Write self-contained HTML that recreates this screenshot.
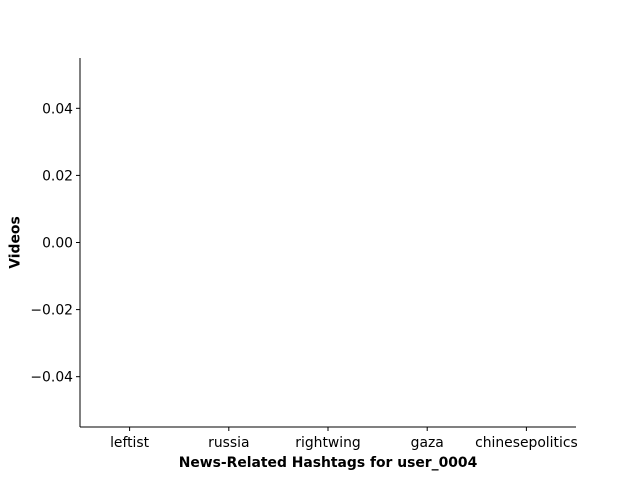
<!DOCTYPE html>
<html><head><meta charset="utf-8"><style>
html,body{margin:0;padding:0;background:#fff;}
svg{display:block;font-family:"DejaVu Sans","Liberation Sans",sans-serif;}
</style></head><body>
<svg id="chart" width="640" height="480"></svg>
<script>
const categories = ["leftist","russia","rightwing","gaza","chinesepolitics"];
const values = [0,0,0,0,0];
const yTicks = [-0.04,-0.02,0,0.02,0.04];
const yTickLabels = ["\u22120.04","\u22120.02","0.00","0.02","0.04"];

const L=80,R=576,T=58,B=427;
const yMin=-0.055,yMax=0.055;
const ys=v=>B-(v-yMin)/(yMax-yMin)*(B-T);
const xs=i=>L+(i+0.5)/categories.length*(R-L);
const NS="http://www.w3.org/2000/svg";
const svg=document.getElementById('chart');
function mk(tag,attrs,parent){const e=document.createElementNS(NS,tag);for(const k in attrs)e.setAttribute(k,attrs[k]);(parent||svg).appendChild(e);return e;}
const FS=13.9;
const bw=(R-L)/categories.length*0.8;
categories.forEach((c,i)=>{
  const y0=ys(0),y1=ys(values[i]);
  const b=mk('rect',{x:xs(i)-bw/2,y:Math.min(y0,y1),width:bw,height:Math.abs(y1-y0),fill:'#1f77b4'});
  
  
  const t=mk('line',{x1:xs(i),x2:xs(i),y1:B,y2:B+4,stroke:'#000','stroke-width':1});
  
  
  const lb=mk('text',{x:xs(i),y:B+20,'text-anchor':'middle','font-size':FS,fill:'#000'});
  lb.textContent=c;
  
  
});
yTicks.forEach((v,i)=>{
  const t=mk('line',{x1:L-4,x2:L,y1:ys(v),y2:ys(v),stroke:'#000','stroke-width':1});
  
  
  const lb=mk('text',{x:L-7,y:ys(v)+5,'text-anchor':'end','font-size':FS,fill:'#000'});
  lb.textContent=yTickLabels[i];
  
  
});
const ya=mk('line',{x1:L,x2:L,y1:T,y2:B,stroke:'#000','stroke-width':1});


const xa=mk('line',{x1:L,x2:R,y1:B,y2:B,stroke:'#000','stroke-width':1});


const xt=mk('text',{x:(L+R)/2,y:467,'text-anchor':'middle','font-size':FS,'font-weight':'bold',fill:'#000'});
xt.textContent="News-Related Hashtags for user_0004";


const yt=mk('text',{x:0,y:0,'text-anchor':'middle','font-size':FS,'font-weight':'bold',fill:'#000',transform:`translate(19.5,${(T+B)/2}) rotate(-90)`});
yt.textContent="Videos";


</script>
</body></html>
